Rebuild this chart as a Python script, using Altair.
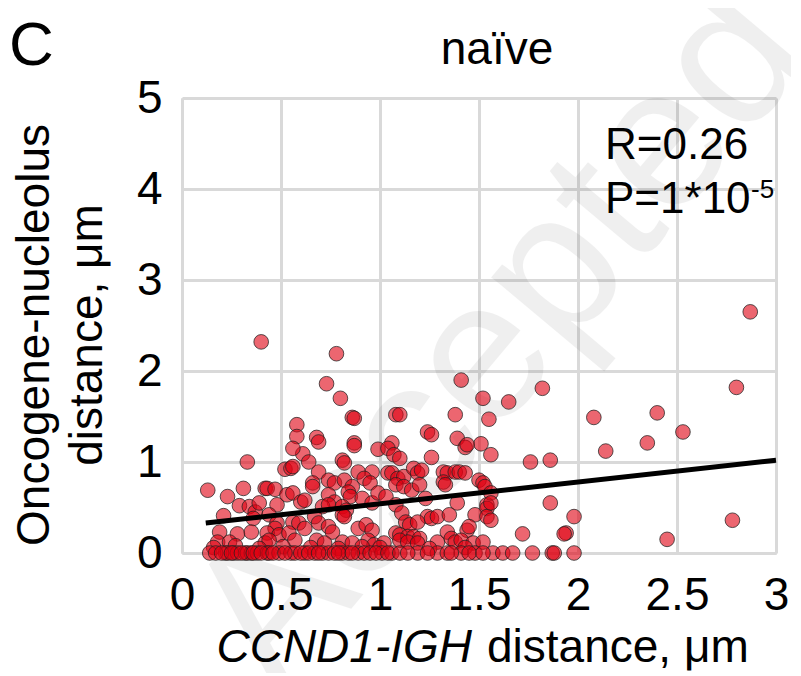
import altair as alt
import pandas as pd

# ---- data ----
pt_x = [
    # sparse / upper points
    0.40, 0.78, 0.73, 0.80, 0.86, 0.87, 1.41, 1.52, 1.08, 1.10, 1.38, 1.55, 1.24, 1.26, 1.39,
    0.58, 0.58, 0.68, 0.69, 0.87, 0.87, 0.99, 1.06, 1.04, 1.43, 1.51, 1.56, 1.82, 1.65, 2.08,
    2.40, 2.80, 2.87, 2.53, 2.35, 2.14, 1.76, 1.86, 1.86, 1.98, 1.72, 1.94, 1.93, 2.78, 2.45,
    0.61, 0.64, 0.33, 0.52, 0.55, 0.56,
    # left cluster
    0.13, 0.23, 0.31, 0.42, 0.43, 0.47, 0.29, 0.21, 0.34, 0.37, 0.39, 0.48, 0.53, 0.36, 0.44,
    0.48, 0.47, 0.19, 0.28, 0.35, 0.43, 0.49, 0.18, 0.24, 0.42, 0.44,
    # middle cluster
    0.81, 0.82, 0.56, 0.69, 0.89, 0.96, 1.04, 0.66, 0.66, 0.74, 0.77, 0.82, 0.86, 0.92, 0.95,
    0.56, 0.60, 0.62, 0.74, 0.77, 0.84, 0.85, 0.91, 0.96, 0.99, 1.03, 0.71, 0.74, 0.81, 0.83,
    0.67, 0.69, 0.81, 0.82, 0.56, 0.59, 0.62, 0.74, 0.76, 0.89, 0.93, 0.96, 0.54, 0.57, 0.68,
    0.72, 0.81, 0.86, 0.94, 0.97, 1.02,
    # right cluster
    1.07, 1.10, 1.26, 1.44, 1.06, 1.09, 1.12, 1.17, 1.19, 1.21, 1.32, 1.34, 1.38, 1.40, 1.43,
    1.32, 1.33, 1.50, 1.52, 1.53, 1.08, 1.12, 1.16, 1.20, 1.23, 1.39, 1.54, 1.54, 1.08, 1.11,
    1.24, 1.26, 1.29, 1.35, 1.48, 1.54, 1.13, 1.15, 1.19, 1.34, 1.44, 1.45, 1.08, 1.10, 1.14,
    1.17, 1.20, 1.29, 1.36, 1.38, 1.41, 1.47, 1.52, 1.10, 1.14, 1.19, 1.56, 1.56, 1.56,
    # low points just above zero
    0.16, 0.27, 0.39, 0.51, 0.65, 0.79, 0.91, 1.00, 1.25, 1.43,
    # points at zero
    0.14, 0.22, 0.23, 0.26, 0.28, 0.32, 0.33, 0.35, 0.38, 0.43, 0.44, 0.49, 0.55,
    0.57, 0.62, 0.67, 0.71, 0.74, 0.81, 0.84, 0.89, 0.92, 0.95, 1.01, 1.06,
    1.19, 1.29, 1.34, 1.41, 1.48, 1.57, 1.62, 1.67, 1.77, 1.87, 1.88, 1.98,
    0.17, 0.20, 0.25, 0.30, 0.36, 0.40, 0.46, 0.52, 0.60, 0.64, 0.69, 0.77,
    0.79, 0.86, 0.98, 1.04, 1.10, 1.14, 1.24, 1.36, 1.45, 1.52,
]
pt_y = [
    2.32, 2.19, 1.86, 1.70, 1.49, 1.48, 1.90, 1.70, 1.52, 1.52, 1.52, 1.47, 1.33, 1.30, 1.26,
    1.41, 1.28, 1.27, 1.22, 1.21, 1.18, 1.14, 1.21, 1.15, 1.16, 1.20, 1.08, 1.81, 1.66, 1.49,
    1.54, 1.82, 2.65, 1.33, 1.21, 1.12, 1.00, 1.02, 0.55, 0.40, 0.21, 0.22, 0.21, 0.36, 0.15,
    1.09, 1.00, 1.00, 0.92, 0.93, 1.15,
    0.69, 0.62, 0.71, 0.71, 0.71, 0.70, 0.52, 0.41, 0.51, 0.45, 0.55, 0.53, 0.64, 0.38, 0.42,
    0.33, 0.27, 0.23, 0.21, 0.23, 0.22, 0.20, 0.12, 0.12, 0.11, 0.14,
    1.02, 0.99, 0.95, 0.89, 0.89, 0.89, 0.88, 0.77, 0.73, 0.80, 0.77, 0.80, 0.73, 0.82, 0.77,
    0.66, 0.56, 0.58, 0.64, 0.56, 0.67, 0.62, 0.60, 0.55, 0.66, 0.62, 0.51, 0.53, 0.51, 0.47,
    0.40, 0.33, 0.42, 0.40, 0.34, 0.33, 0.27, 0.29, 0.23, 0.27, 0.31, 0.25, 0.22, 0.14, 0.14,
    0.11, 0.12, 0.11, 0.14, 0.09, 0.11,
    1.08, 1.04, 1.05, 1.19, 0.88, 0.82, 0.84, 0.93, 0.88, 0.91, 0.89, 0.88, 0.89, 0.89, 0.88,
    0.78, 0.75, 0.80, 0.77, 0.73, 0.75, 0.73, 0.69, 0.75, 0.60, 0.55, 0.53, 0.49, 0.53, 0.44,
    0.40, 0.38, 0.40, 0.42, 0.42, 0.40, 0.34, 0.31, 0.34, 0.23, 0.25, 0.29, 0.22, 0.20, 0.18,
    0.18, 0.16, 0.12, 0.16, 0.12, 0.14, 0.11, 0.12, 0.14, 0.12, 0.11, 0.66, 0.55, 0.36,
    0.06, 0.08, 0.05, 0.07, 0.06, 0.05, 0.07, 0.06, 0.05, 0.06,
    0, 0, 0, 0, 0, 0, 0, 0, 0, 0, 0, 0, 0,
    0, 0, 0, 0, 0, 0, 0, 0, 0, 0, 0, 0,
    0, 0, 0, 0, 0, 0, 0, 0, 0, 0, 0, 0,
    0, 0, 0, 0, 0, 0, 0, 0, 0, 0, 0, 0,
    0, 0, 0, 0, 0, 0, 0, 0, 0, 0,
]

fit_x = [0.12, 3.0]
fit_y = [0.33, 1.02]

x_ticks = [0, 0.5, 1, 1.5, 2, 2.5, 3]
y_ticks = [0, 1, 2, 3, 4, 5]

FONT = "Liberation Sans"
W, H = 594, 455

pts = pd.DataFrame({"x": pt_x, "y": pt_y})
fit = pd.DataFrame({"x": fit_x, "y": fit_y})

xscale = alt.Scale(domain=[0, 3], nice=False, zero=False)
yscale = alt.Scale(domain=[0, 5], nice=False, zero=False)

axis_common = dict(
    labelFont=FONT, labelFontSize=46, labelColor="black", grid=True,
    gridColor="#d9d9d9", gridWidth=3, domainColor="#d9d9d9", domainWidth=3,
    ticks=False, title=None, labelFlush=False, labelOverlap=False, labelBound=False,
)

def txt(s, x, y, size=46, align="center", baseline="alphabetic", angle=0, style="normal", color="black", opacity=1.0):
    return alt.Chart(pd.DataFrame({"t": [s]})).mark_text(
        font=FONT, fontSize=size, align=align, baseline=baseline, angle=angle,
        fontStyle=style, color=color, opacity=opacity,
    ).encode(x=alt.value(x), y=alt.value(y), text="t:N")

watermark = txt("Accepted", 318, 240, size=200, angle=310, baseline="middle", color="black", opacity=0.06)

points = alt.Chart(pts).mark_circle(
    size=215, color="#e00010", fillOpacity=0.6, stroke="#222222", strokeWidth=1, strokeOpacity=0.75
).encode(
    x=alt.X("x:Q", scale=xscale, axis=alt.Axis(values=x_ticks, format="~g", labelPadding=20, **axis_common)),
    y=alt.Y("y:Q", scale=yscale, axis=alt.Axis(values=y_ticks, format="~g", labelPadding=20, **axis_common)),
)

line = alt.Chart(fit).mark_line(color="black", strokeWidth=5).encode(
    x=alt.X("x:Q", scale=xscale), y=alt.Y("y:Q", scale=yscale)
)

labels = [
    txt("C", -173, -33, size=62, align="left"),
    txt("naïve", 315, -34, size=46),
    txt("Oncogene-nucleolus", -147, 237, size=46, angle=270, baseline="middle"),
    txt("distance, μm", -94, 237, size=46, angle=270, baseline="middle"),
    txt("CCND1-IGH", 290, 564, size=46, align="right", style="italic"),
    txt("distance, μm", 305, 564, size=46, align="left"),
    txt("R=0.26", 423, 61, size=44, align="left"),
    txt("P=1*10", 423, 115, size=44, align="left"),
    txt("-5", 569, 100, size=26, align="left"),
]

chart = alt.layer(watermark, points, line, *labels).properties(
    width=W, height=H,
    autosize=alt.AutoSizeParams(type="none"),
    padding={"left": 174, "top": 90, "right": 15, "bottom": 120},
).configure_view(stroke="#d9d9d9", strokeWidth=3).configure(background="white")

chart.save("out.html", embed_options={"renderer": "svg", "actions": False})
